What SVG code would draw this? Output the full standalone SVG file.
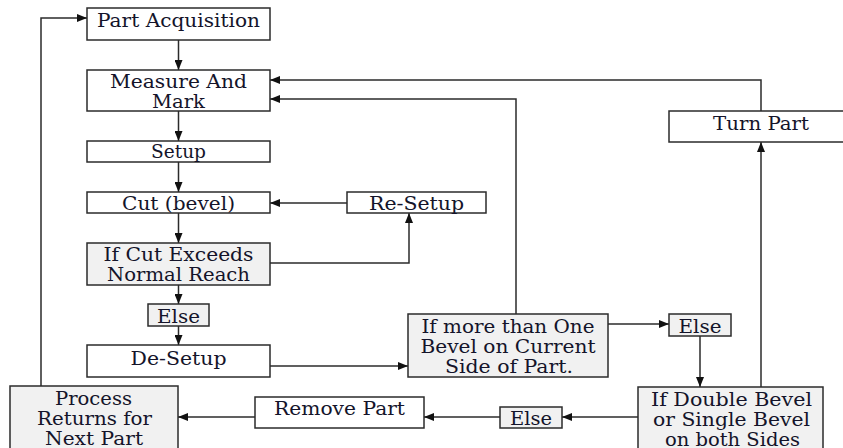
<svg xmlns="http://www.w3.org/2000/svg" width="843" height="448" viewBox="0 0 843 448">
  <style>
    .box { fill: #ffffff; stroke: #2b2b2b; stroke-width: 1.5; }
    .dec { fill: #f1f1f1; stroke: #2b2b2b; stroke-width: 1.5; }
    .t { font-family: 'DejaVu Serif', 'Liberation Serif', serif; font-size: 18px; fill: #14142a; text-anchor: middle; }
    .c { fill: none; stroke: #2b2b2b; stroke-width: 1.5; marker-end: url(#ah); }
  </style>
  <defs>
    <marker id="ah" viewBox="0 0 10 8" refX="10" refY="4" markerWidth="10" markerHeight="8" markerUnits="userSpaceOnUse" orient="auto">
      <path d="M0,0 L10,4 L0,8 Z" fill="#111"/>
    </marker>
  </defs>

  <rect width="843" height="448" fill="#ffffff"/>

  <g id="connectors">
    <line class="c" x1="178.5" y1="40" x2="178.5" y2="70"/>
    <line class="c" x1="178.5" y1="111" x2="178.5" y2="141"/>
    <line class="c" x1="178.5" y1="162" x2="178.5" y2="192"/>
    <line class="c" x1="178.5" y1="213" x2="178.5" y2="243"/>
    <line class="c" x1="178.5" y1="285" x2="178.5" y2="304"/>
    <line class="c" x1="178.5" y1="326" x2="178.5" y2="345"/>
    <line class="c" x1="270" y1="366" x2="408" y2="366"/>
    <line class="c" x1="608" y1="324" x2="669" y2="324"/>
    <line class="c" x1="700" y1="336" x2="700" y2="387"/>
    <line class="c" x1="761" y1="387" x2="761" y2="142"/>
    <polyline class="c" points="761,111 761,80 270,80"/>
    <polyline class="c" points="516,314 516,99 270,99"/>
    <line class="c" x1="638" y1="417" x2="562" y2="417"/>
    <line class="c" x1="500" y1="417" x2="424" y2="417"/>
    <line class="c" x1="255" y1="417" x2="178" y2="417"/>
    <polyline class="c" points="41,386 41,18 87,18"/>
    <polyline class="c" points="270,263 409,263 409,213"/>
    <line class="c" x1="347" y1="203" x2="270" y2="203"/>
  </g>

  <g id="part-acquisition">
    <rect class="box" x="87" y="8" width="183" height="32"/>
    <text class="t" x="178.5" y="27" textLength="163" lengthAdjust="spacingAndGlyphs">Part Acquisition</text>
  </g>
  <g id="measure-and-mark">
    <rect class="box" x="87" y="70" width="183" height="41"/>
    <text class="t" x="178.5" y="88" textLength="137" lengthAdjust="spacingAndGlyphs">Measure And</text>
    <text class="t" x="178.5" y="108" textLength="53" lengthAdjust="spacingAndGlyphs">Mark</text>
  </g>
  <g id="setup">
    <rect class="box" x="87" y="141" width="183" height="21"/>
    <text class="t" x="178.5" y="158" textLength="55" lengthAdjust="spacingAndGlyphs">Setup</text>
  </g>
  <g id="cut-bevel">
    <rect class="box" x="87" y="192" width="183" height="21"/>
    <text class="t" x="178.5" y="210" textLength="113" lengthAdjust="spacingAndGlyphs">Cut (bevel)</text>
  </g>
  <g id="re-setup">
    <rect class="box" x="347" y="192" width="139" height="21"/>
    <text class="t" x="416.5" y="210" textLength="95" lengthAdjust="spacingAndGlyphs">Re-Setup</text>
  </g>
  <g id="if-cut-exceeds">
    <rect class="dec" x="87" y="243" width="183" height="42"/>
    <text class="t" x="178.5" y="261" textLength="150" lengthAdjust="spacingAndGlyphs">If Cut Exceeds</text>
    <text class="t" x="178.5" y="281" textLength="143" lengthAdjust="spacingAndGlyphs">Normal Reach</text>
  </g>
  <g id="else-reach">
    <rect class="dec" x="148" y="304" width="61" height="22"/>
    <text class="t" x="178.5" y="323" textLength="43" lengthAdjust="spacingAndGlyphs">Else</text>
  </g>
  <g id="de-setup">
    <rect class="box" x="87" y="345" width="183" height="32"/>
    <text class="t" x="178.5" y="365" textLength="96" lengthAdjust="spacingAndGlyphs">De-Setup</text>
  </g>
  <g id="if-more-bevels">
    <rect class="dec" x="408" y="314" width="200" height="63"/>
    <text class="t" x="508" y="333" textLength="173" lengthAdjust="spacingAndGlyphs">If more than One</text>
    <text class="t" x="508" y="353" textLength="175" lengthAdjust="spacingAndGlyphs">Bevel on Current</text>
    <text class="t" x="509" y="373" textLength="128" lengthAdjust="spacingAndGlyphs">Side of Part.</text>
  </g>
  <g id="else-bevels">
    <rect class="dec" x="669" y="314" width="62" height="22"/>
    <text class="t" x="700" y="333" textLength="43" lengthAdjust="spacingAndGlyphs">Else</text>
  </g>
  <g id="turn-part">
    <rect class="box" x="669" y="111" width="184" height="31"/>
    <text class="t" x="761" y="130" textLength="96" lengthAdjust="spacingAndGlyphs">Turn Part</text>
  </g>
  <g id="if-double-bevel">
    <rect class="dec" x="638" y="387" width="185" height="70"/>
    <text class="t" x="731.5" y="406" textLength="161" lengthAdjust="spacingAndGlyphs">If Double Bevel</text>
    <text class="t" x="731.5" y="426" textLength="157" lengthAdjust="spacingAndGlyphs">or Single Bevel</text>
    <text class="t" x="732.5" y="446" textLength="135" lengthAdjust="spacingAndGlyphs">on both Sides</text>
  </g>
  <g id="else-sides">
    <rect class="dec" x="500" y="407" width="62" height="21"/>
    <text class="t" x="531" y="425" textLength="42" lengthAdjust="spacingAndGlyphs">Else</text>
  </g>
  <g id="remove-part">
    <rect class="box" x="255" y="397" width="169" height="31"/>
    <text class="t" x="339.5" y="415" textLength="131" lengthAdjust="spacingAndGlyphs">Remove Part</text>
  </g>
  <g id="process-returns">
    <rect class="dec" x="10" y="386" width="168" height="70"/>
    <text class="t" x="93.5" y="405" textLength="77" lengthAdjust="spacingAndGlyphs">Process</text>
    <text class="t" x="94.5" y="425" textLength="115" lengthAdjust="spacingAndGlyphs">Returns for</text>
    <text class="t" x="94" y="445" textLength="98" lengthAdjust="spacingAndGlyphs">Next Part</text>
  </g>
</svg>
